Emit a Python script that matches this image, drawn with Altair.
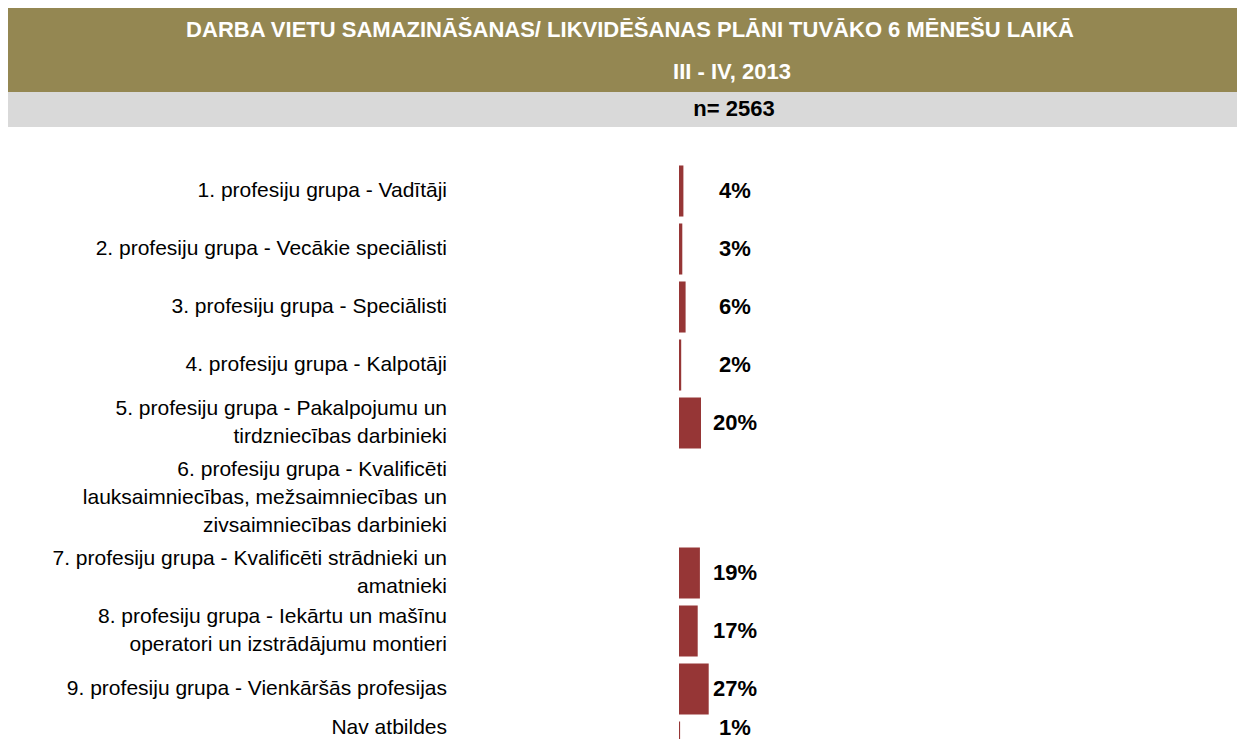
import altair as alt
import pandas as pd

# ---- data ----
categories = [
    "1. profesiju grupa - Vadītāji",
    "2. profesiju grupa - Vecākie speciālisti",
    "3. profesiju grupa - Speciālisti",
    "4. profesiju grupa - Kalpotāji",
    "5. profesiju grupa - Pakalpojumu un\ntirdzniecības darbinieki",
    "6. profesiju grupa - Kvalificēti\nlauksaimniecības, mežsaimniecības un\nzivsaimniecības darbinieki",
    "7. profesiju grupa - Kvalificēti strādnieki un\namatnieki",
    "8. profesiju grupa - Iekārtu un mašīnu\noperatori un izstrādājumu montieri",
    "9. profesiju grupa - Vienkāršās profesijas",
    "Nav atbildes",
]
values = [4, 3, 6, 2, 20, None, 19, 17, 27, 1]

title_line = "DARBA VIETU SAMAZINĀŠANAS/ LIKVIDĒŠANAS PLĀNI TUVĀKO 6 MĒNEŠU LAIKĀ"
subtitle_line = "III - IV, 2013"
n_line = "n= 2563"

df = pd.DataFrame({"cat": categories, "val": values, "idx": list(range(len(categories)))})
df["lab"] = df["val"].apply(lambda v: "" if pd.isna(v) else f"{int(v)}%")
df["nl"] = df["cat"].str.count("\n") + 1

W, H = 1229, 731
FONT = "Liberation Sans"
OLIVE = "#948752"
GREY = "#D9D9D9"
BAR = "#963636"
LH = 28

xscale = alt.Scale(domain=[0, 100], range=[671, 781])


def rows(lo, hi, rng, text_dy=0):
    """Layer for categories[lo:hi] placed on its own band scale."""
    dom = categories[lo:hi]
    sub = alt.Chart(df).transform_filter(
        f"datum.idx >= {lo} && datum.idx < {hi}")
    yenc = alt.Y("cat:N", axis=None,
                 scale=alt.Scale(domain=dom, range=rng,
                                 paddingInner=0.12, paddingOuter=0.06))
    bars = sub.transform_filter("isValid(datum.val)").mark_bar(color=BAR).encode(
        y=yenc,
        x=alt.X("val:Q", scale=xscale, axis=None),
        x2=alt.X2(datum=0),
    )
    layers = [bars]
    for n in sorted(set(df["nl"].iloc[lo:hi])):
        layers.append(
            sub.transform_filter(f"datum.nl == {n}").mark_text(
                align="right", baseline="middle", lineBreak="\n",
                lineHeight=LH, font=FONT, fontSize=21,
                dy=text_dy - (n - 1) * LH / 2, color="#000000").encode(
                y=yenc, x=alt.value(439), text="cat:N"))
    layers.append(
        sub.mark_text(align="center", baseline="middle", font=FONT,
                      fontSize=22, fontWeight="bold", dy=text_dy,
                      color="#000000").encode(
            y=yenc, x=alt.value(727), text="lab:N"))
    return alt.layer(*layers)


hdr = alt.Chart(pd.DataFrame({"t": [title_line], "s": [subtitle_line], "n": [n_line]}))

olive = hdr.mark_rect(color=OLIVE).encode(
    x=alt.value(0), x2=alt.value(W), y=alt.value(0), y2=alt.value(84))
grey = hdr.mark_rect(color=GREY).encode(
    x=alt.value(0), x2=alt.value(W), y=alt.value(84), y2=alt.value(119))
t1 = hdr.mark_text(align="center", baseline="middle", font=FONT, fontSize=22,
                   fontWeight="bold", color="white").encode(
    x=alt.value(622), y=alt.value(22), text="t:N")
t2 = hdr.mark_text(align="center", baseline="middle", font=FONT, fontSize=22,
                   fontWeight="bold", color="white").encode(
    x=alt.value(724), y=alt.value(64), text="s:N")
t3 = hdr.mark_text(align="center", baseline="middle", font=FONT, fontSize=22,
                   fontWeight="bold", color="black").encode(
    x=alt.value(726), y=alt.value(101), text="n:N")

header = alt.layer(olive, grey, t1, t2, t3)

chart = alt.layer(
    header,
    rows(0, 5, [154, 444]),
    rows(5, 6, [444, 536]),
    rows(6, 9, [536, 710]),
    rows(9, 10, [710, 768], text_dy=-19),
).resolve_scale(y="independent").properties(
    width=W, height=H, padding=0, autosize=alt.AutoSizeParams(type="none")
).configure(background="white").configure_view(strokeWidth=0, stroke="transparent")

chart.save("out.html", embed_options={"renderer": "svg", "actions": False})
